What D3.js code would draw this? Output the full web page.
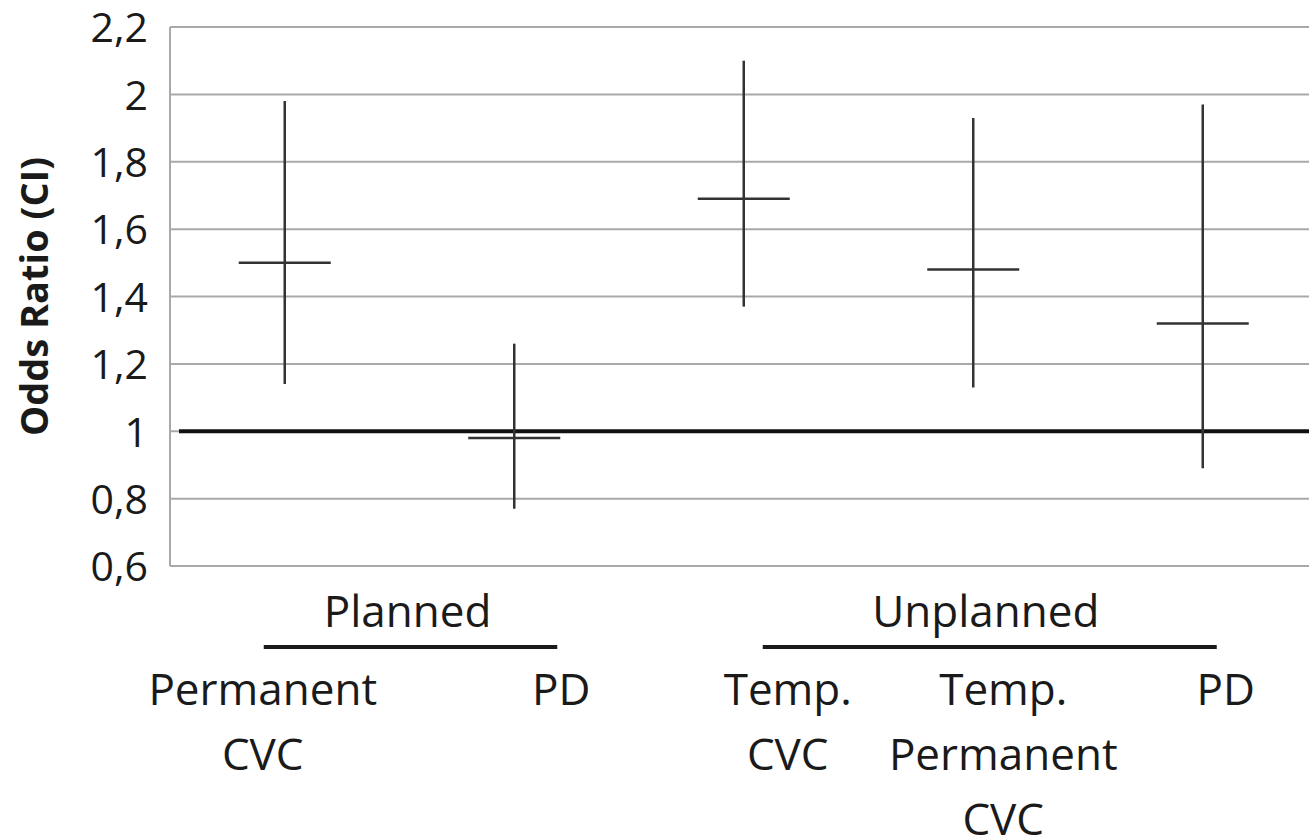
<!DOCTYPE html>
<html>
<head>
<meta charset="utf-8">
<script src="https://cdn.jsdelivr.net/npm/d3@7"></script>
<style>
  html, body { margin: 0; padding: 0; background: #fff; overflow: hidden; }
  svg { display: block; }
  text { font-family: "Open Sans", "Noto Sans", sans-serif; fill: #1a1a1a; }
</style>
</head>
<body>
<svg id="chart" width="1309" height="839"></svg>
<script>
// ---- data ----
const categories = ["Permanent CVC", "PD (planned)", "Temp. CVC", "Temp. Permanent CVC", "PD (unplanned)"];
const categoryLines = [["Permanent", "CVC"], ["PD"], ["Temp.", "CVC"], ["Temp.", "Permanent", "CVC"], ["PD"]];
const oddsRatio = [1.50, 0.98, 1.69, 1.48, 1.32];
const ciLow = [1.14, 0.77, 1.37, 1.13, 0.89];
const ciHigh = [1.98, 1.26, 2.10, 1.93, 1.97];
const groups = ["Planned", "Unplanned"];
const groupMembers = [[0, 1], [2, 3, 4]];
const yTicks = [0.6, 0.8, 1.0, 1.2, 1.4, 1.6, 1.8, 2.0, 2.2];
const referenceValue = 1;

// ---- layout (not data) ----
const plotLeft = 170, plotRight = 1317.5, plotTop = 27, plotBottom = 566;
const labelDx = [-22, 47, 44, 30, 23];
const groupPad = [[-21, 43], [19, 14]];
const groupLabelDx = [-3, -4];

const svg = d3.select("#chart");
const x = d3.scaleBand().domain(categories).range([plotLeft, plotRight]).padding(0);
const y = d3.scaleLinear().domain([0.6, 2.2]).range([plotBottom, plotTop]);
const cx = c => x(c) + x.bandwidth() / 2;

// gridlines
svg.append("g").selectAll("line").data(yTicks).join("line")
  .attr("x1", plotLeft).attr("x2", 1309)
  .attr("y1", d => y(d)).attr("y2", d => y(d))
  .attr("stroke", "#a9a9a9").attr("stroke-width", 2);

// y axis line
svg.append("line").attr("x1", plotLeft).attr("x2", plotLeft).attr("y1", y(2.2)).attr("y2", y(0.6))
  .attr("stroke", "#a9a9a9").attr("stroke-width", 2);

// y tick labels via d3 axis
const fmt = d => d3.format(".1~f")(d).replace(".", ",");
const yAxis = svg.append("g").attr("transform", `translate(${plotLeft - 22},0)`)
  .call(d3.axisLeft(y).tickValues(yTicks).tickFormat(fmt).tickSize(0).tickPadding(0));
yAxis.select(".domain").remove();
yAxis.selectAll("text").style("font-size", "41px").style("font-family", '"Open Sans", sans-serif')
  .attr("fill", "#1a1a1a").attr("dy", "0.36em");

// y title
svg.append("text")
  .attr("transform", `translate(48,${y(1.4)}) rotate(-90)`)
  .attr("text-anchor", "middle").style("font-size", "38px").style("font-weight", "bold")
  .text("Odds Ratio (CI)");

// reference line at 1
svg.append("line").attr("x1", plotLeft + 9).attr("x2", 1309)
  .attr("y1", y(referenceValue)).attr("y2", y(referenceValue))
  .attr("stroke", "#111").attr("stroke-width", 4);

// error bars
const bars = svg.append("g");
bars.selectAll("line.ci").data(categories).join("line").attr("class", "ci")
  .attr("x1", cx).attr("x2", cx)
  .attr("y1", (d, i) => y(ciHigh[i])).attr("y2", (d, i) => y(ciLow[i]))
  .attr("stroke", "#333").attr("stroke-width", 2.5);
bars.selectAll("line.or").data(categories).join("line").attr("class", "or")
  .attr("x1", d => cx(d) - 46).attr("x2", d => cx(d) + 46)
  .attr("y1", (d, i) => y(oddsRatio[i])).attr("y2", (d, i) => y(oddsRatio[i]))
  .attr("stroke", "#333").attr("stroke-width", 2.5);

// group labels and underlines
groups.forEach((g, gi) => {
  const mem = groupMembers[gi];
  const x1 = cx(categories[mem[0]]) + groupPad[gi][0];
  const x2 = cx(categories[mem[mem.length - 1]]) + groupPad[gi][1];
  svg.append("line").attr("x1", x1).attr("x2", x2).attr("y1", 647).attr("y2", 647)
    .attr("stroke", "#1a1a1a").attr("stroke-width", 4);
  svg.append("text").attr("x", (x1 + x2) / 2 + groupLabelDx[gi]).attr("y", 627)
    .attr("text-anchor", "middle").style("font-size", "44px").text(g);
});

// category labels
categories.forEach((c, i) => {
  const t = svg.append("text").attr("text-anchor", "middle").style("font-size", "44px");
  categoryLines[i].forEach((line, li) => {
    t.append("tspan").attr("x", cx(c) + labelDx[i]).attr("y", 705 + li * 65).text(line);
  });
});
</script>
</body>
</html>
